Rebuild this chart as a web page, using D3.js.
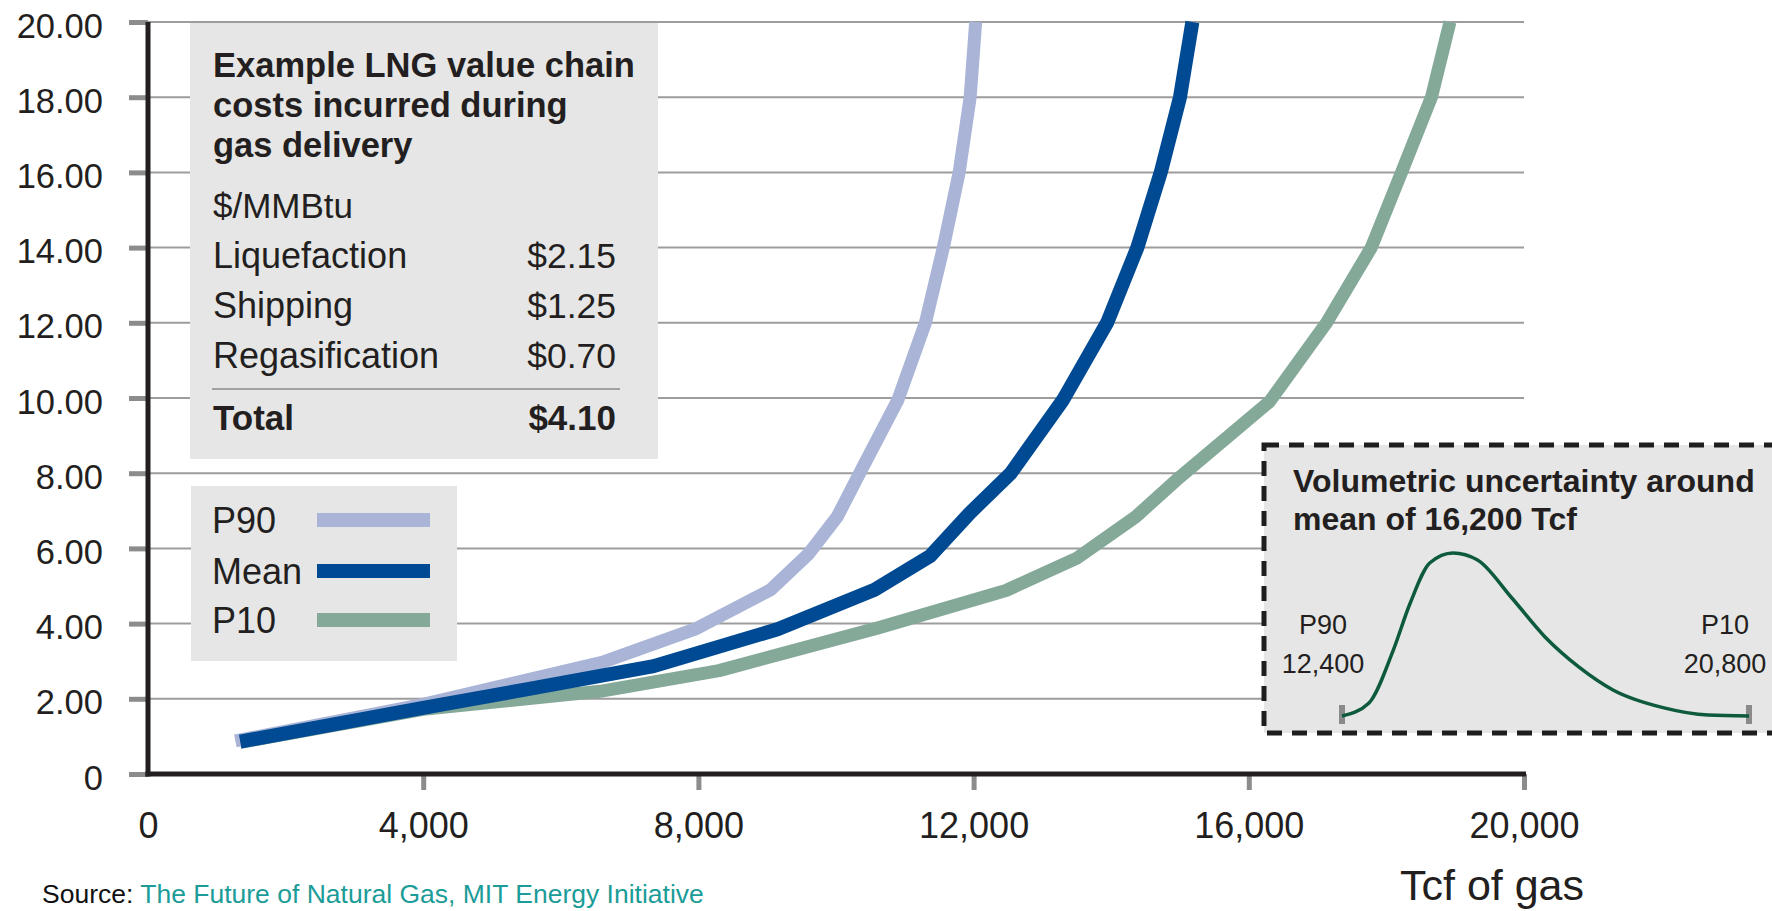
<!DOCTYPE html>
<html>
<head>
<meta charset="utf-8">
<script src="https://cdn.jsdelivr.net/npm/d3@7"></script>
<style>
  html, body { margin: 0; padding: 0; background: #ffffff; }
  svg { display: block; }
  text { font-family: "Liberation Sans", Arial, sans-serif; fill: #231f20; }
</style>
</head>
<body>
<svg id="chart" width="1772" height="911"></svg>
<script>
// ---------------- data ----------------
const xTicks = [0, 4000, 8000, 12000, 16000, 20000];
const yTicks = [0, 2, 4, 6, 8, 10, 12, 14, 16, 18, 20];
const xAxisTitle = "Tcf of gas";

const seriesNames = ["P10", "P90", "Mean"];
const seriesColors = ["#85a999", "#a9b4d7", "#004a93"];

const tcfP90  = [1270, 4000, 6600, 7950, 9050, 9600, 10020, 10400, 10900, 11300, 11560, 11790, 11950, 12030];
const costP90 = [0.88, 1.85, 2.97, 3.85, 4.90, 5.85, 6.85, 8.20, 9.95, 12.0, 14.0, 16.0, 18.0, 20.0];

const tcfMean  = [1340, 4000, 5500, 7350, 9150, 10560, 11370, 11950, 12540, 13300, 13940, 14380, 14720, 15000, 15180];
const costMean = [0.86, 1.76, 2.25, 2.87, 3.85, 4.90, 5.80, 6.95, 8.00, 9.95, 12.0, 14.0, 16.0, 18.0, 20.0];

const tcfP10  = [1340, 4000, 6570, 8300, 10600, 12470, 13510, 14355, 15000, 16300, 17130, 17780, 18220, 18655, 18924];
const costP10 = [0.84, 1.72, 2.20, 2.75, 3.88, 4.88, 5.75, 6.84, 7.90, 9.90, 12.0, 14.0, 16.0, 18.0, 20.0];

const legendLabels = ["P90", "Mean", "P10"];
const legendColors = ["#a9b4d7", "#004a93", "#85a999"];

const costTitle = ["Example LNG value chain", "costs incurred during", "gas delivery"];
const costUnit = "$/MMBtu";
const costItems = ["Liquefaction", "Shipping", "Regasification"];
const costValues = ["$2.15", "$1.25", "$0.70"];
const costTotalLabel = "Total";
const costTotalValue = "$4.10";

const insetTitle = ["Volumetric uncertainty around", "mean of 16,200 Tcf"];
const insetLow = ["P90", "12,400"];
const insetHigh = ["P10", "20,800"];
const densityTcf = [12400, 12957, 13453, 13804, 14216, 14691, 15197, 15888, 16590, 17292, 17993, 19046, 19954, 20800];
const densityVal = [0.00, 0.08, 0.40, 0.69, 0.94, 1.00, 0.957, 0.73, 0.485, 0.30, 0.16, 0.05, 0.006, 0.00];

const sourceLabel = "Source:";
const sourceText = "The Future of Natural Gas, MIT Energy Initiative";

// ---------------- drawing ----------------
const svg = d3.select("#chart");
const x = d3.scaleLinear().domain([0, 20000]).range([148, 1524]);
const y = d3.scaleLinear().domain([0, 20]).range([774, 22]);
const GRID = "#9d9d9d", TICK = "#8c8c8c", BOX = "#e6e6e6";
const FONT = "Liberation Sans, Arial, sans-serif";

// gridlines
svg.append("g").selectAll("line").data(yTicks.filter(d => d > 0)).join("line")
  .attr("x1", x(0)).attr("x2", x(20000))
  .attr("y1", d => y(d)).attr("y2", d => y(d))
  .attr("stroke", GRID).attr("stroke-width", 2);

// info box
const info = svg.append("g");
info.append("rect").attr("x", 190).attr("y", 23).attr("width", 468).attr("height", 436).attr("fill", BOX);
info.selectAll("text.t").data(costTitle).join("text").attr("class", "t")
  .attr("x", 213).attr("y", (d, i) => 77 + i * 40)
  .attr("font-size", 34.5).attr("font-weight", "bold").text(d => d);
info.append("text").attr("x", 213).attr("y", 218).attr("font-size", 35).text(costUnit);
info.selectAll("text.item").data(costItems).join("text").attr("class", "item")
  .attr("x", 213).attr("y", (d, i) => 268 + i * 50).attr("font-size", 36).text(d => d);
info.selectAll("text.val").data(costValues).join("text").attr("class", "val")
  .attr("x", 616).attr("y", (d, i) => 268 + i * 50).attr("font-size", 35.5)
  .attr("text-anchor", "end").text(d => d);
info.append("line").attr("x1", 212).attr("x2", 620).attr("y1", 389).attr("y2", 389)
  .attr("stroke", "#8a8a8a").attr("stroke-width", 1.5);
info.append("text").attr("x", 213).attr("y", 430).attr("font-size", 35).attr("font-weight", "bold").text(costTotalLabel);
info.append("text").attr("x", 616).attr("y", 430).attr("font-size", 35).attr("font-weight", "bold")
  .attr("text-anchor", "end").text(costTotalValue);

// legend box
const leg = svg.append("g");
leg.append("rect").attr("x", 191).attr("y", 486).attr("width", 266).attr("height", 175).attr("fill", BOX);
const legRows = leg.selectAll("g").data(legendLabels).join("g")
  .attr("transform", (d, i) => `translate(0,${[520, 571, 620][i]})`);
legRows.append("text").attr("x", 212).attr("y", 12.5).attr("font-size", 36).text(d => d);
legRows.append("line").attr("x1", 317).attr("x2", 430).attr("y1", 0).attr("y2", 0)
  .attr("stroke", (d, i) => legendColors[i]).attr("stroke-width", 14);

// curves
const line = d3.line().x(d => x(d[0])).y(d => y(d[1])).curve(d3.curveLinear);
const seriesData = [
  d3.zip(tcfP10, costP10),
  d3.zip(tcfP90, costP90),
  d3.zip(tcfMean, costMean)
];
svg.append("g").selectAll("path").data(seriesData).join("path")
  .attr("d", line).attr("fill", "none")
  .attr("stroke", (d, i) => seriesColors[i])
  .attr("stroke-width", (d, i) => i === 2 ? 14 : 13)
  .attr("stroke-linejoin", "round").attr("stroke-linecap", "butt");

// y axis
const yAxis = svg.append("g").attr("transform", `translate(${x(0)},0)`)
  .call(d3.axisLeft(y).tickValues(yTicks).tickSize(19).tickPadding(26)
    .tickFormat(d => d === 0 ? "0" : d.toFixed(2)));
yAxis.select(".domain").remove();
yAxis.selectAll(".tick line").attr("stroke", TICK).attr("stroke-width", 5);
yAxis.selectAll(".tick text").attr("font-size", 34.5).attr("dy", "0.44em")
  .attr("font-family", FONT).attr("fill", "#231f20");

// x axis
const xAxis = svg.append("g").attr("transform", `translate(0,${y(0)})`)
  .call(d3.axisBottom(x).tickValues(xTicks).tickSize(16).tickPadding(0)
    .tickFormat(d3.format(",")));
xAxis.select(".domain").remove();
xAxis.selectAll(".tick line").attr("stroke", TICK).attr("stroke-width", 5)
  .attr("opacity", d => d === 0 ? 0 : 1);
xAxis.selectAll(".tick text").attr("font-size", 36).attr("y", 64).attr("dy", 0)
  .attr("font-family", FONT).attr("fill", "#231f20");

// axis lines
svg.append("line").attr("x1", x(0)).attr("x2", x(0)).attr("y1", y(20)).attr("y2", y(0) + 2.5)
  .attr("stroke", "#231f20").attr("stroke-width", 5);
svg.append("line").attr("x1", x(0) - 2.5).attr("x2", x(20000) + 2).attr("y1", y(0)).attr("y2", y(0))
  .attr("stroke", "#231f20").attr("stroke-width", 5);

// x axis title
svg.append("text").attr("x", 1492).attr("y", 900).attr("text-anchor", "middle")
  .attr("font-size", 43).text(xAxisTitle);

// inset
const inset = svg.append("g");
inset.append("rect").attr("x", 1264).attr("y", 445).attr("width", 540).attr("height", 288)
  .attr("fill", BOX).attr("stroke", "#1e1e1e").attr("stroke-width", 5).attr("stroke-dasharray", "15,10");
inset.selectAll("text.it").data(insetTitle).join("text").attr("class", "it")
  .attr("x", 1293).attr("y", (d, i) => 492 + i * 38).attr("font-size", 32).attr("font-weight", "bold").text(d => d);
inset.selectAll("text.lo").data(insetLow).join("text").attr("class", "lo")
  .attr("x", 1323).attr("y", (d, i) => 634 + i * 39).attr("font-size", 27).attr("text-anchor", "middle").text(d => d);
inset.selectAll("text.hi").data(insetHigh).join("text").attr("class", "hi")
  .attr("x", 1725).attr("y", (d, i) => 634 + i * 39).attr("font-size", 27).attr("text-anchor", "middle").text(d => d);
const ix = d3.scaleLinear().domain([12400, 20800]).range([1342, 1749]);
const iy = d3.scaleLinear().domain([0, 1]).range([716, 553]);
inset.selectAll("line.end").data([12400, 20800]).join("line").attr("class", "end")
  .attr("x1", d => ix(d)).attr("x2", d => ix(d)).attr("y1", 705).attr("y2", 724)
  .attr("stroke", "#8a8a8a").attr("stroke-width", 6);
inset.append("path")
  .attr("d", d3.line().x(d => ix(d[0])).y(d => iy(d[1])).curve(d3.curveMonotoneX)(d3.zip(densityTcf, densityVal)))
  .attr("fill", "none").attr("stroke", "#0d5a3c").attr("stroke-width", 3.5);

// source (kept fully inside the picture)
const src = svg.append("text").attr("x", 42).attr("y", 903).attr("font-size", 26.5);
src.append("tspan").attr("fill", "#111").text(sourceLabel + " ");
src.append("tspan").attr("fill", "#1b9c98").text(sourceText);
</script>
</body>
</html>
